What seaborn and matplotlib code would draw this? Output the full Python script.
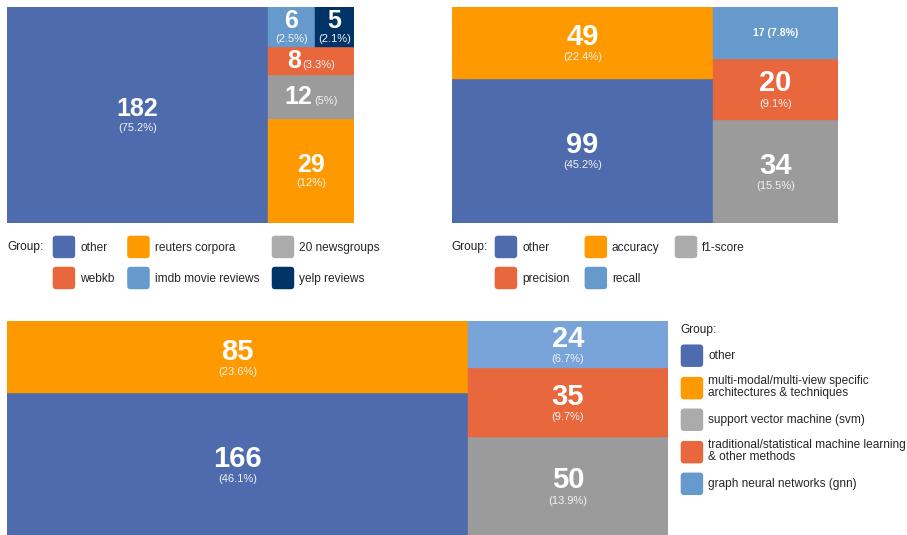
import numpy as np
import matplotlib
matplotlib.use('Agg')
import matplotlib.pyplot as plt
import seaborn as sns
from matplotlib.patches import FancyBboxPatch, Patch
from matplotlib.legend_handler import HandlerPatch
from matplotlib.offsetbox import TextArea, VPacker, HPacker, AnnotationBbox

# Data
datasets = ['other', 'reuters corpora', '20 newsgroups', 'webkb', 'imdb movie reviews', 'yelp reviews']
dataset_counts = [182, 29, 12, 8, 6, 5]

metrics = ['other', 'accuracy', 'f1-score', 'precision', 'recall']
metric_counts = [99, 49, 34, 20, 17]

methods = ['other', 'multi-modal/multi-view specific architectures & techniques',
           'support vector machine (svm)',
           'traditional/statistical machine learning & other methods',
           'graph neural networks (gnn)']
method_labels = ['other', 'multi-modal/multi-view specific\narchitectures & techniques',
                 'support vector machine (svm)',
                 'traditional/statistical machine learning\n& other methods',
                 'graph neural networks (gnn)']
method_counts = [166, 85, 50, 35, 24]

# colours (cell, legend)
BLUE = '#4e6bad'
ORANGE = '#fe9a00'
GRAY_CELL, GRAY_LEG = '#9b9b9b', '#ababab'
RED = '#e8673c'
LBLUE = '#6699cc'
NAVY = '#003366'

sns.set_theme(style='white')
plt.rcParams['font.family'] = ['Liberation Sans', 'DejaVu Sans']


def worst(row, side):
    s = sum(row)
    return max(max(side * side * r / (s * s), (s * s) / (side * side * r)) for r in row)


def squarify(values, x=0.0, y=0.0, w=1.0, h=1.0):
    areas = [v * w * h / sum(values) for v in values]
    rects = []
    i = 0
    while i < len(areas):
        side = min(w, h)
        row = [areas[i]]
        j = i + 1
        while j < len(areas) and worst(row + [areas[j]], side) <= worst(row, side):
            row.append(areas[j])
            j += 1
        s = sum(row)
        if w >= h:
            cw = s / h
            yy = y
            for a in row:
                rects.append((x, yy, cw, a / cw))
                yy += a / cw
            x += cw
            w -= cw
        else:
            rh = s / w
            xx = x
            for a in row:
                rects.append((xx, y, a / rh, rh))
                xx += a / rh
            y += rh
            h -= rh
        i = j
    return rects


def pct_text(v, total):
    return '({:g}%)'.format(round(100 * v / total, 1))


def draw_treemap(ax, values, colors, numsize, modes):
    total = sum(values)
    rects = squarify(values)
    xs = [r[0] for r in rects]
    ys = [r[1] for r in rects]
    ws = [r[2] for r in rects]
    hs = [r[3] for r in rects]
    ax.bar(xs, hs, width=ws, bottom=ys, align='edge', color=colors,
           edgecolor=colors, linewidth=0.3)
    for (x, y, w, h), v, mode in zip(rects, values, modes):
        cx, cy = x + w / 2, y + h / 2
        if mode == 'small':
            box = TextArea('{} {}'.format(v, pct_text(v, total)),
                           textprops=dict(color='white', fontsize=7.5, fontweight='bold'))
        else:
            num = TextArea(str(v), textprops=dict(color='white', fontsize=numsize, fontweight='bold'))
            pct = TextArea(pct_text(v, total), textprops=dict(color='#f2f2f2', fontsize=8))
            if mode == 'inline':
                box = HPacker(children=[num, pct], align='baseline', pad=0, sep=1)
            else:
                box = VPacker(children=[num, pct], align='center', pad=0, sep=1)
        ab = AnnotationBbox(box, (cx, cy), xycoords='data', frameon=False,
                            box_alignment=(0.5, 0.5), pad=0)
        ax.add_artist(ab)
    ax.set_xlim(0, 1)
    ax.set_ylim(0, 1)
    ax.axis('off')


def rounded(legend, orig_handle, xdescent, ydescent, width, height, fontsize):
    return FancyBboxPatch((-xdescent, -ydescent), width, height,
                          boxstyle='round,pad=0,rounding_size=3')


W, H = 907, 535
fig = plt.figure(figsize=(W / 100, H / 100), dpi=100)

ax1 = fig.add_axes([7 / W, 1 - 223 / H, 347 / W, 216 / H])
ax2 = fig.add_axes([452 / W, 1 - 223 / H, 386 / W, 216 / H])
ax3 = fig.add_axes([7 / W, 0, 661 / W, 214 / H])

draw_treemap(ax1, dataset_counts, [BLUE, ORANGE, GRAY_CELL, RED, LBLUE, NAVY], 18,
             ['stack', 'stack', 'inline', 'inline', 'stack', 'stack'])
draw_treemap(ax2, metric_counts, [BLUE, ORANGE, GRAY_CELL, RED, LBLUE], 21,
             ['stack', 'stack', 'stack', 'stack', 'small'])
draw_treemap(ax3, method_counts, [BLUE, ORANGE, GRAY_CELL, RED, '#79a4da'], 21,
             ['stack'] * 5)

leg_kw = dict(frameon=False, fontsize=8.6, handlelength=2.0, handleheight=2.7,
              handletextpad=0.35, borderpad=0, borderaxespad=0,
              handler_map={Patch: HandlerPatch(patch_func=rounded)})

# legend 1 (order fills columns)
c1 = [BLUE, ORANGE, GRAY_LEG, RED, LBLUE, NAVY]
order1 = [0, 3, 1, 4, 2, 5]
h1 = [Patch(facecolor=c1[i], label=datasets[i]) for i in order1]
fig.legend(handles=h1, ncol=3, loc='upper left', bbox_to_anchor=(52 / W, 1 - 235 / H),
           columnspacing=1.0, labelspacing=0.6, **leg_kw)
fig.text(7 / W, 1 - 247 / H, 'Group:', fontsize=8.6, va='center', ha='left', color='#222222')

c2 = [BLUE, ORANGE, GRAY_LEG, RED, LBLUE]
order2 = [0, 3, 1, 4, 2]
h2 = [Patch(facecolor=c2[i], label=metrics[i]) for i in order2]
fig.legend(handles=h2, ncol=3, loc='upper left', bbox_to_anchor=(494 / W, 1 - 235 / H),
           columnspacing=1.2, labelspacing=0.6, **leg_kw)
fig.text(451 / W, 1 - 247 / H, 'Group:', fontsize=8.6, va='center', ha='left', color='#222222')

c3 = [BLUE, ORANGE, GRAY_LEG, RED, LBLUE]
h3 = [Patch(facecolor=c3[i], label=method_labels[i]) for i in range(5)]
leg3 = fig.legend(handles=h3, ncol=1, loc='upper left', bbox_to_anchor=(680 / W, 1 - 324 / H),
                  title='Group:', title_fontsize=8.6, alignment='left', labelspacing=0.65,
                  **leg_kw)
for t in leg3.get_texts():
    t.set_linespacing(0.95)

fig.savefig('out.png', dpi=100, facecolor='white')
